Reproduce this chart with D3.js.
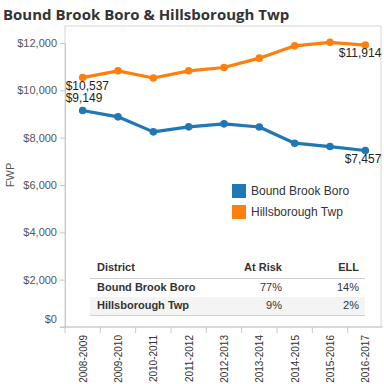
<!DOCTYPE html>
<html><head><meta charset="utf-8">
<script src="https://cdn.jsdelivr.net/npm/d3@7"></script>
<style>body{margin:0;background:#fff;} text{font-family:Arial,"Liberation Sans",sans-serif;}</style>
</head><body><svg id="c" width="384" height="384"></svg>
<script>
const years = ["2008-2009","2009-2010","2010-2011","2011-2012","2012-2013","2013-2014","2014-2015","2015-2016","2016-2017"];
const boundBrook = [9149,8880,8245,8456,8584,8450,7767,7624,7457];
const hillsborough = [10537,10825,10520,10825,10965,11360,11880,12030,11914];
const seriesNames = ["Bound Brook Boro","Hillsborough Twp"];
const colors = ["#1f77b4","#ff7f0e"];
const yTicks = [0,2000,4000,6000,8000,10000,12000];
const tableHeader = ["District","At Risk","ELL"];
const tableRows = [["Bound Brook Boro","77%","14%"],["Hillsborough Twp","9%","2%"]];

const svg = d3.select("#c");
const L=65, R=383, T=26, B=327;
const x = d3.scaleBand().domain(years).range([L,R]);
const y = d3.scaleLinear().domain([0,12000]).range([B,43]);

// title
svg.append("text").attr("x",3).attr("y",20).attr("font-size",15).attr("font-weight","bold")
  .attr("fill","#333").style("font-family","'Open Sans',sans-serif")
  .text("Bound Brook Boro & Hillsborough Twp");

// frame
svg.append("rect").attr("x",L).attr("y",T).attr("width",381-L).attr("height",B-T)
  .attr("fill","none").attr("stroke","#d4d4d4");

// y axis
const ya = svg.append("g").attr("transform",`translate(${L},0)`)
  .call(d3.axisLeft(y).tickValues(yTicks).tickSize(5).tickPadding(3).tickFormat(d=>"$"+d3.format(",")(d)));
ya.select(".domain").attr("stroke","#c8c8c8");
ya.selectAll(".tick line").attr("stroke","#c8c8c8");
ya.selectAll(".tick text").attr("fill","#555").attr("font-size",11).style("font-family","Arial,sans-serif");
ya.selectAll(".tick").filter(d=>d===0).select("text").attr("dy","-0.4em");

svg.append("text").attr("transform","translate(14,175) rotate(-90)").attr("text-anchor","middle")
  .attr("font-size",11).attr("fill","#555").text("FWP");

// x axis
const xa = svg.append("g").attr("transform",`translate(0,${B})`);
xa.append("line").attr("x1",L-5).attr("x2",R).attr("stroke","#c8c8c8");
xa.selectAll(".sep").data(years).enter().append("line")
  .attr("x1",d=>x(d)).attr("x2",d=>x(d)).attr("y1",0).attr("y2",6).attr("stroke","#c8c8c8");
xa.selectAll(".lab").data(years).enter().append("text")
  .attr("transform",d=>`translate(${x(d)+x.bandwidth()/2+4},8) rotate(-90)`)
  .attr("text-anchor","end").attr("font-size",10).attr("fill","#333").text(d=>d);

// lines
const line = d3.line().x((d,i)=>x(years[i])+x.bandwidth()/2).y(d=>y(d));
[boundBrook,hillsborough].forEach((s,k)=>{
  svg.append("path").datum(s).attr("d",line).attr("fill","none").attr("stroke",colors[k]).attr("stroke-width",3.2).attr("stroke-linejoin","round");
  svg.selectAll(".p"+k).data(s).enter().append("circle")
    .attr("cx",(d,i)=>x(years[i])+x.bandwidth()/2).attr("cy",d=>y(d)).attr("r",3.8).attr("fill",colors[k]);
});

// data labels
const fmt = d=>"$"+d3.format(",")(d);
const cx = i=>x(years[i])+x.bandwidth()/2;
svg.append("text").attr("x",cx(0)-17).attr("y",y(hillsborough[0])+12).attr("font-size",12).attr("fill","#222").text(fmt(hillsborough[0]));
svg.append("text").attr("x",cx(0)-17).attr("y",y(boundBrook[0])-8).attr("font-size",12).attr("fill","#222").text(fmt(boundBrook[0]));
svg.append("text").attr("x",cx(8)+16).attr("y",y(hillsborough[8])+12).attr("text-anchor","end").attr("font-size",12).attr("fill","#222").text(fmt(hillsborough[8]));
svg.append("text").attr("x",cx(8)+16).attr("y",y(boundBrook[8])+12).attr("text-anchor","end").attr("font-size",12).attr("fill","#222").text(fmt(boundBrook[8]));

// legend
seriesNames.forEach((n,k)=>{
  svg.append("rect").attr("x",232).attr("y",184+21*k).attr("width",14).attr("height",14).attr("fill",colors[k]);
  svg.append("text").attr("x",251).attr("y",195+21*k).attr("font-size",12).attr("fill","#333").text(n);
});

// table
const tg = svg.append("g");
tg.append("rect").attr("x",90).attr("y",297).attr("width",275).attr("height",18).attr("fill","#f4f4f4");
tg.append("line").attr("x1",90).attr("x2",365).attr("y1",278.5).attr("y2",278.5).attr("stroke","#cfcfcf");
tg.append("line").attr("x1",90).attr("x2",365).attr("y1",315.5).attr("y2",315.5).attr("stroke","#cfcfcf");
const colX = [97,282,359];
const anchors = ["start","end","end"];
tableHeader.forEach((h,i)=>tg.append("text").attr("x",colX[i]).attr("y",271).attr("text-anchor",anchors[i])
  .attr("font-size",11).attr("font-weight","bold").attr("fill","#333").text(h));
tableRows.forEach((r,j)=>r.forEach((v,i)=>tg.append("text").attr("x",colX[i]).attr("y",291+18*j).attr("text-anchor",anchors[i])
  .attr("font-size",11).attr("font-weight",i===0?"bold":"normal").attr("fill","#333").text(v)));
</script></body></html>
